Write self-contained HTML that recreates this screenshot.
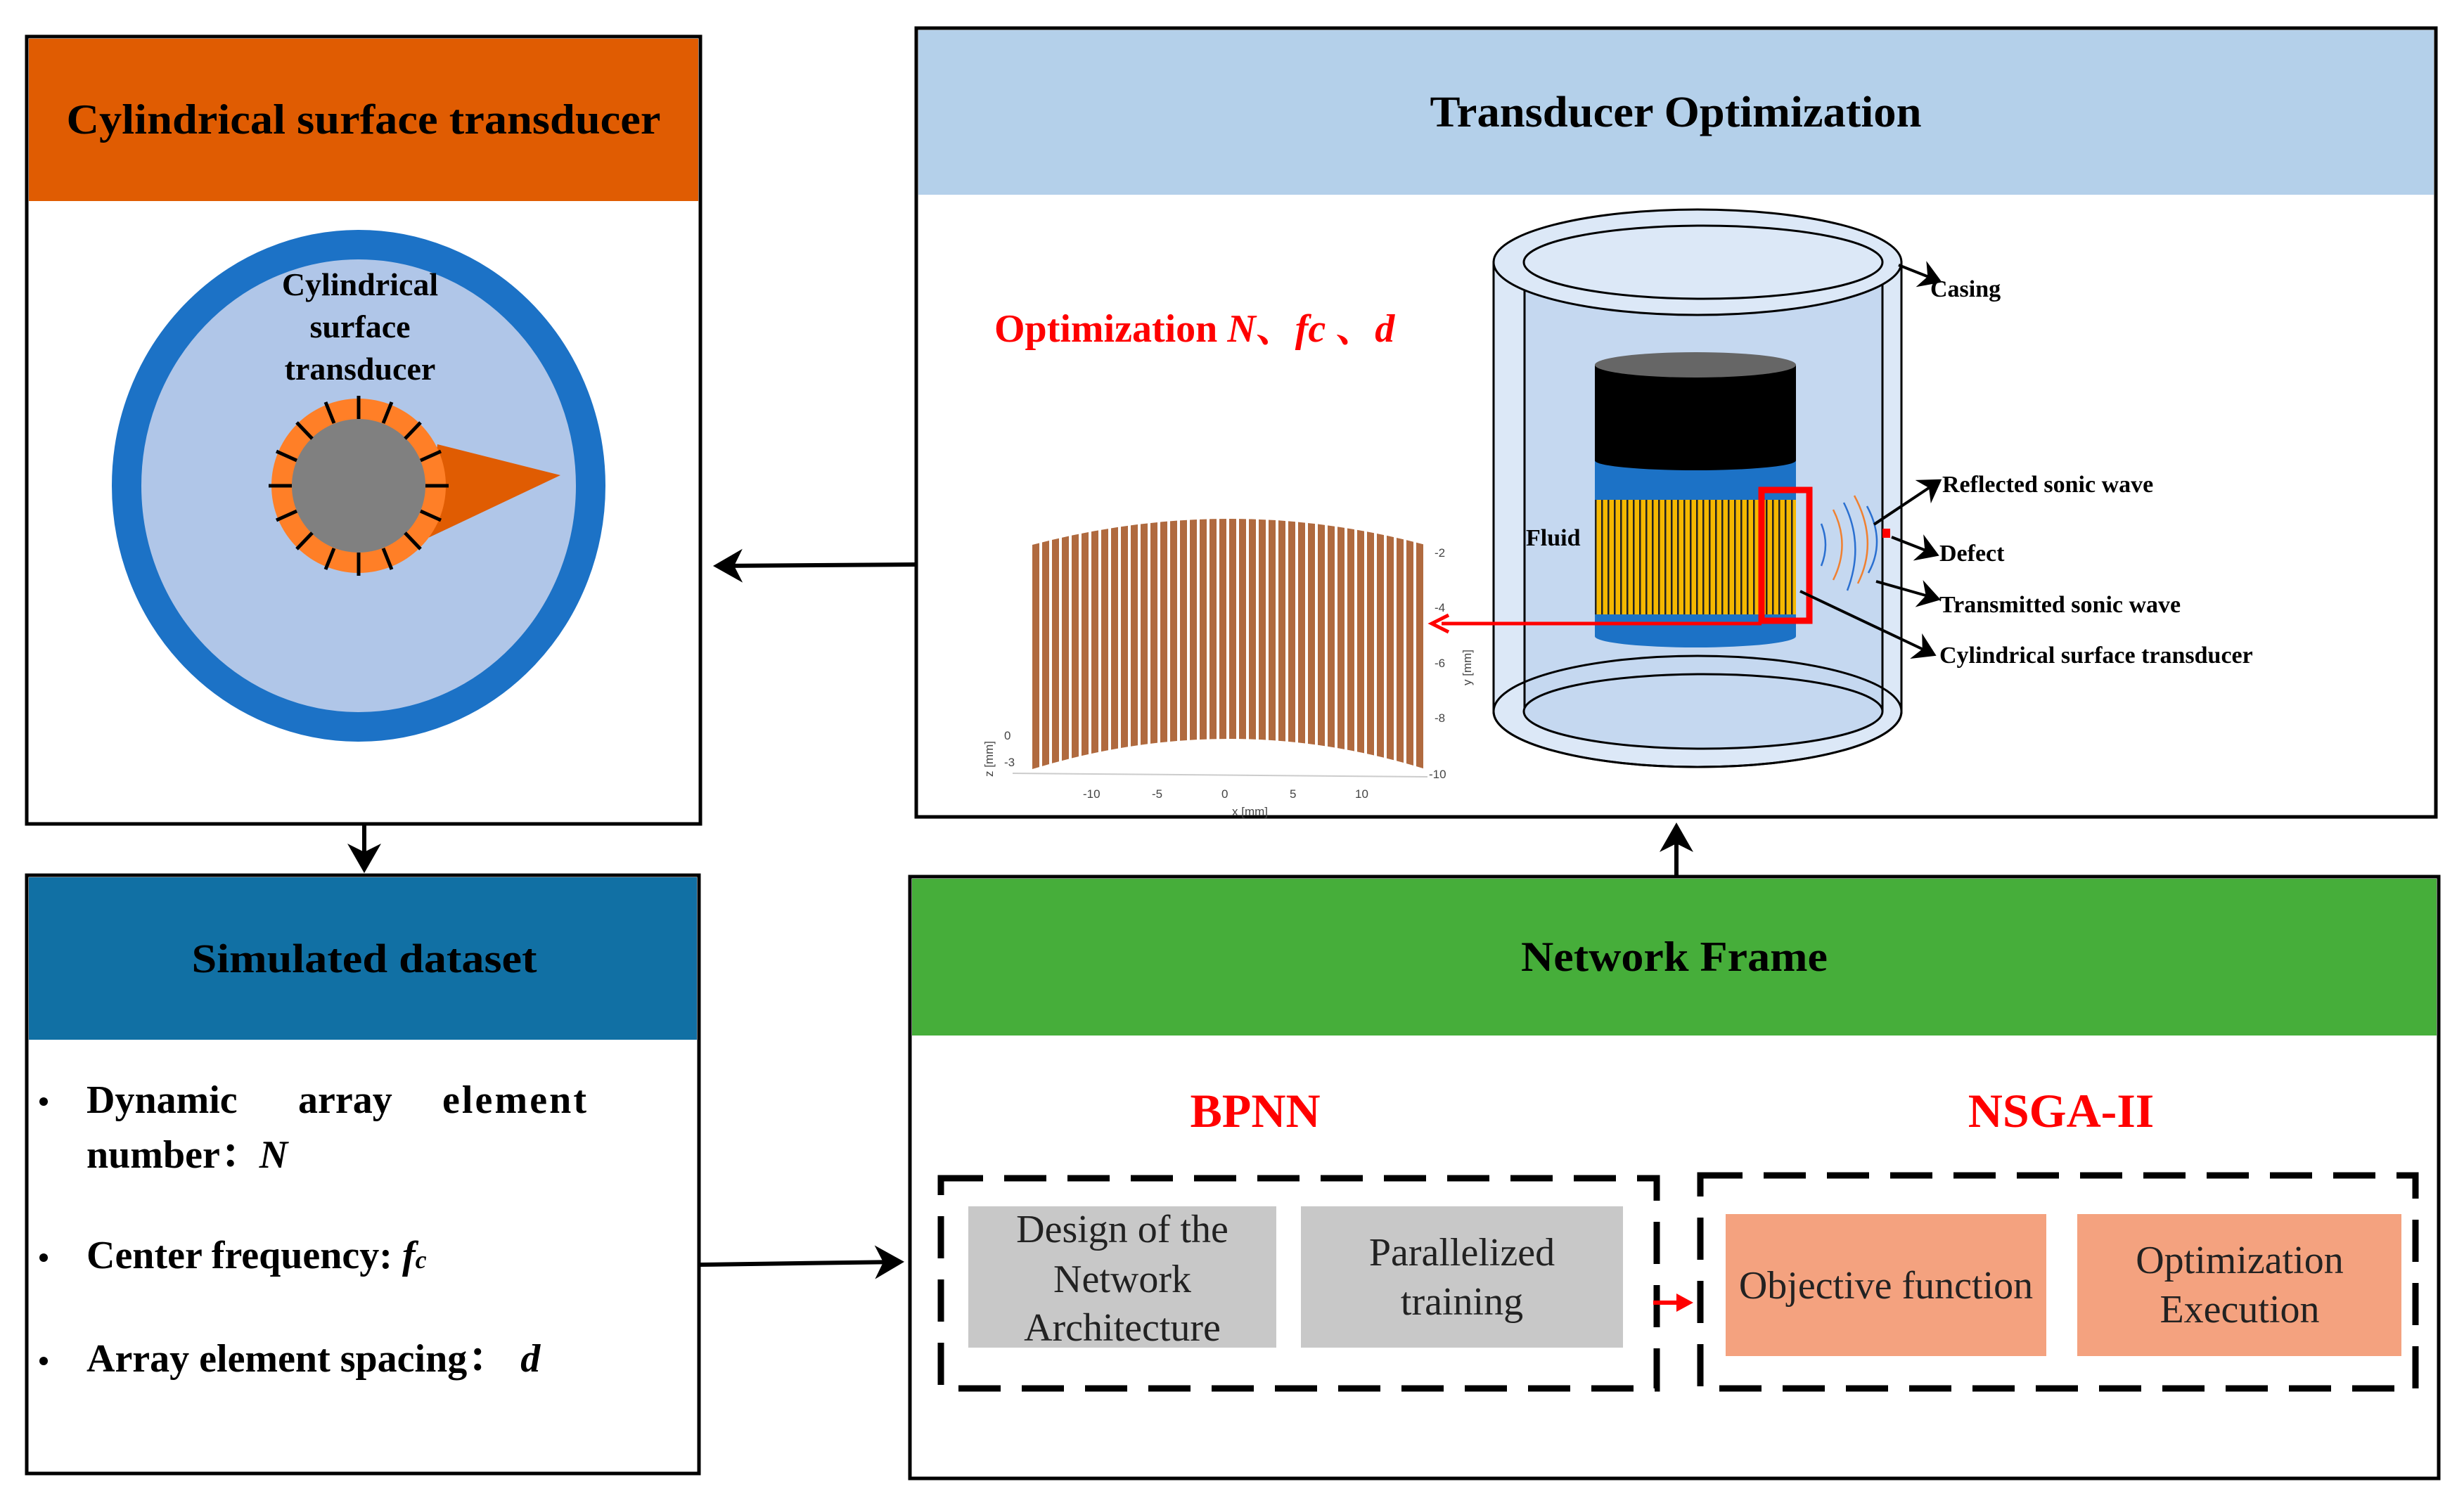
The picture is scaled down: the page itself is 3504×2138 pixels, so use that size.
<!DOCTYPE html>
<html><head><meta charset="utf-8"><style>
html,body{margin:0;padding:0;background:#fff;}
svg{display:block;font-family:"Liberation Serif","Noto Serif CJK SC",serif;}
</style></head><body>
<svg width="3504" height="2138" viewBox="0 0 3504 2138" xmlns="http://www.w3.org/2000/svg">
<defs>
<pattern id="ystripe" width="9" height="10" patternUnits="userSpaceOnUse"><rect width="9" height="10" fill="#f5b800"/><rect width="2.5" height="10" fill="#222"/></pattern>
<pattern id="bstripe" x="1468" width="14" height="10" patternUnits="userSpaceOnUse"><rect width="14" height="10" fill="#fff"/><rect width="10" height="10" fill="#b06a3f"/></pattern>
<marker id="ah" markerWidth="8" markerHeight="8" refX="6" refY="4" orient="auto" markerUnits="strokeWidth"><path d="M0,0 L7,4 L0,8 L2,4 Z" fill="#000"/></marker>
<marker id="ah2" markerWidth="10" markerHeight="10" refX="7" refY="5" orient="auto" markerUnits="strokeWidth"><path d="M0,0 L8,5 L0,10 L2.5,5 Z" fill="#000"/></marker>
</defs>

<!-- Top-left box -->
<rect x="38" y="52" width="958" height="1120" fill="#fff" stroke="#000" stroke-width="5"/>
<rect x="41" y="55" width="952" height="231" fill="#e05c02"/>
<text x="517" y="190" font-size="60" font-weight="bold" text-anchor="middle" textLength="845" lengthAdjust="spacingAndGlyphs">Cylindrical surface transducer</text>
<ellipse cx="510" cy="691" rx="330" ry="343" fill="#b0c6e8" stroke="#1c72c6" stroke-width="42"/>
<polygon points="622,632 797,676 609,765" fill="#e05c02"/>
<circle cx="510" cy="691" r="124" fill="#ff7f27"/>
<circle cx="510" cy="691" r="95" fill="#808080"/>
<g stroke="#000" stroke-width="5">
<line x1="510" y1="563" x2="510" y2="596"/><line x1="510" y1="786" x2="510" y2="819"/>
<line x1="382" y1="691" x2="415" y2="691"/><line x1="605" y1="691" x2="638" y2="691"/>
<line x1="463" y1="572" x2="475" y2="602"/><line x1="557" y1="572" x2="545" y2="602"/>
<line x1="463" y1="810" x2="475" y2="780"/><line x1="557" y1="810" x2="545" y2="780"/>
<line x1="422" y1="601" x2="444" y2="624"/><line x1="598" y1="601" x2="576" y2="624"/>
<line x1="422" y1="781" x2="444" y2="758"/><line x1="598" y1="781" x2="576" y2="758"/>
<line x1="393" y1="642" x2="422" y2="655"/><line x1="627" y1="642" x2="598" y2="655"/>
<line x1="393" y1="740" x2="422" y2="727"/><line x1="627" y1="740" x2="598" y2="727"/>
</g>
<g font-size="46" font-weight="bold" text-anchor="middle">
<text x="512" y="420">Cylindrical</text><text x="512" y="480">surface</text><text x="512" y="540">transducer</text>
</g>

<!-- Simulated dataset -->
<rect x="38" y="1245" width="956" height="851" fill="#fff" stroke="#000" stroke-width="5"/>
<rect x="41" y="1248" width="950" height="231" fill="#1170a4"/>
<text x="518" y="1383" font-size="58" font-weight="bold" text-anchor="middle" textLength="491" lengthAdjust="spacingAndGlyphs">Simulated dataset</text>
<g font-size="56" font-weight="bold">
<circle cx="62" cy="1567" r="6" fill="#000"/>
<text x="123" y="1583">Dynamic</text><text x="424" y="1583">array</text><text x="629" y="1583" textLength="205">element</text>
<text x="123" y="1661">number：<tspan font-style="italic">N</tspan></text>
<circle cx="62" cy="1789" r="6" fill="#000"/>
<text x="123" y="1804">Center frequency: <tspan font-style="italic">f</tspan><tspan font-style="italic" font-size="36">c</tspan></text>
<circle cx="62" cy="1936" r="6" fill="#000"/>
<text x="123" y="1951">Array element spacing：<tspan font-style="italic" dx="20">d</tspan></text>
</g>

<!-- Transducer Optimization -->
<rect x="1303" y="40" width="2161" height="1122" fill="#fff" stroke="#000" stroke-width="5"/>
<rect x="1306" y="43" width="2155" height="234" fill="#b4d0ea"/>
<text x="2383" y="180" font-size="62" font-weight="bold" text-anchor="middle" textLength="699" lengthAdjust="spacingAndGlyphs">Transducer Optimization</text>
<text x="1414" y="486" font-size="56" font-weight="bold" fill="#ff0000">Optimization <tspan font-style="italic">N</tspan>、<tspan font-style="italic">fc</tspan> 、<tspan font-style="italic">d</tspan></text>

<!-- plot -->
<path d="M1468,775 Q1748,701 2027,775 L2027,1094 Q1748,1008 1468,1094 Z" fill="url(#bstripe)"/>
<g font-family="Liberation Sans,sans-serif" font-size="17" fill="#444">
<text x="2040" y="792">-2</text><text x="2040" y="870">-4</text><text x="2040" y="949">-6</text><text x="2040" y="1027">-8</text><text x="2032" y="1107">-10</text>
<text x="1540" y="1135">-10</text><text x="1638" y="1135">-5</text><text x="1737" y="1135">0</text><text x="1834" y="1135">5</text><text x="1927" y="1135">10</text>
<text x="1752" y="1160">x [mm]</text>
<text transform="translate(2092,975) rotate(-90)">y [mm]</text>
<text transform="translate(1412,1105) rotate(-90)">z [mm]</text>
<text x="1428" y="1052">0</text><text x="1428" y="1090">-3</text>
</g>
<line x1="1440" y1="1100" x2="2030" y2="1105" stroke="#ccc" stroke-width="2"/>

<!-- casing -->
<path d="M2124,373 L2124,1012 A290,79 0 0 0 2704,1012 L2704,373 Z" fill="#dce8f7" stroke="#000" stroke-width="3"/>
<rect x="2168" y="373" width="509" height="639" fill="#c5d8f0"/>
<line x1="2168" y1="373" x2="2168" y2="1012" stroke="#000" stroke-width="3"/>
<line x1="2677" y1="373" x2="2677" y2="1012" stroke="#000" stroke-width="3"/>
<ellipse cx="2414" cy="373" rx="290" ry="75" fill="#dce8f7" stroke="#000" stroke-width="3"/>
<ellipse cx="2422" cy="373" rx="255" ry="52" fill="#dce8f7" stroke="#000" stroke-width="3"/>
<ellipse cx="2414" cy="1012" rx="290" ry="79" fill="none" stroke="#000" stroke-width="3"/>
<ellipse cx="2422" cy="1012" rx="255" ry="53" fill="#c5d8f0" stroke="#000" stroke-width="3"/>
<!-- tool -->
<path d="M2268,860 L2268,905 A143,16 0 0 0 2554,905 L2554,860 Z" fill="#1c72c6"/>
<rect x="2268" y="655" width="286" height="215" fill="#1c72c6"/>
<rect x="2268" y="711" width="286" height="163" fill="url(#ystripe)"/>
<path d="M2268,519 L2268,655 A143,14 0 0 0 2554,655 L2554,519 Z" fill="#000"/>
<ellipse cx="2411" cy="519" rx="143" ry="18" fill="#666"/>
<rect x="2505" y="697" width="68" height="186" fill="none" stroke="#ff0000" stroke-width="9"/>
<line x1="2505" y1="887" x2="2050" y2="887" stroke="#ff0000" stroke-width="5"/>
<path d="M2060,875 L2036,887 L2060,899" fill="none" stroke="#ff0000" stroke-width="5"/>
<!-- waves -->
<g fill="none" stroke-width="2.5">
<path d="M2590,745 Q2602,775 2590,805" stroke="#2a6fd0"/>
<path d="M2607,725 Q2632,775 2607,825" stroke="#f08030"/>
<path d="M2622,715 Q2652,775 2627,840" stroke="#2a6fd0"/>
<path d="M2637,705 Q2672,770 2642,830" stroke="#f08030"/>
<path d="M2655,720 Q2682,770 2657,815" stroke="#2a6fd0"/>
</g>
<rect x="2677" y="752" width="11" height="13" fill="#ff0000"/>
<text x="2170" y="776" font-size="34" font-weight="bold">Fluid</text>
<g stroke="#000" stroke-width="4" marker-end="url(#ah2)">
<line x1="2700" y1="377" x2="2758" y2="400"/>
<line x1="2665" y1="746" x2="2758" y2="684"/>
<line x1="2690" y1="764" x2="2754" y2="789"/>
<line x1="2668" y1="827" x2="2756" y2="852"/>
<line x1="2560" y1="841" x2="2750" y2="931"/>
</g>
<g font-size="34" font-weight="bold">
<text x="2745" y="422">Casing</text>
<text x="2762" y="700">Reflected sonic wave</text>
<text x="2758" y="798">Defect</text>
<text x="2758" y="871">Transmitted sonic wave</text>
<text x="2758" y="943">Cylindrical surface transducer</text>
</g>

<!-- Network Frame -->
<rect x="1294" y="1247" width="2174" height="856" fill="#fff" stroke="#000" stroke-width="5"/>
<rect x="1297" y="1250" width="2168" height="223" fill="#46ae3a"/>
<text x="2381" y="1381" font-size="60" font-weight="bold" text-anchor="middle" textLength="436" lengthAdjust="spacingAndGlyphs">Network Frame</text>
<text x="1785" y="1603" font-size="68" font-weight="bold" fill="#ff0000" text-anchor="middle">BPNN</text>
<text x="2931" y="1603" font-size="68" font-weight="bold" fill="#ff0000" text-anchor="middle">NSGA-II</text>
<g fill="none" stroke="#000" stroke-width="9" stroke-dasharray="60,30">
<rect x="1338" y="1676" width="1018" height="299"/>
<rect x="2418" y="1672" width="1017" height="303"/>
</g>
<rect x="1377" y="1716" width="438" height="201" fill="#c8c8c8"/>
<rect x="1850" y="1716" width="458" height="201" fill="#c8c8c8"/>
<rect x="2454" y="1727" width="456" height="202" fill="#f4a27f"/>
<rect x="2954" y="1727" width="461" height="202" fill="#f4a27f"/>
<g font-size="56" text-anchor="middle" fill="#222">
<text x="1596" y="1767">Design of the</text><text x="1596" y="1838">Network</text><text x="1596" y="1907">Architecture</text>
<text x="2079" y="1800">Parallelized</text><text x="2079" y="1870">training</text>
<text x="2682" y="1847">Objective function</text>
<text x="3185" y="1811">Optimization</text><text x="3185" y="1881">Execution</text>
</g>
<line x1="2351" y1="1853" x2="2390" y2="1853" stroke="#ff0000" stroke-width="6"/>
<path d="M2384,1840 L2408,1853 L2384,1866 Z" fill="#ff0000"/>

<!-- connectors -->
<g stroke="#000" stroke-width="6" marker-end="url(#ah)">
<line x1="1303" y1="803" x2="1020" y2="805"/>
<line x1="518" y1="1172" x2="518" y2="1236"/>
<line x1="996" y1="1799" x2="1280" y2="1795"/>
<line x1="2384" y1="1247" x2="2384" y2="1176"/>
</g>
</svg>
</body></html>
